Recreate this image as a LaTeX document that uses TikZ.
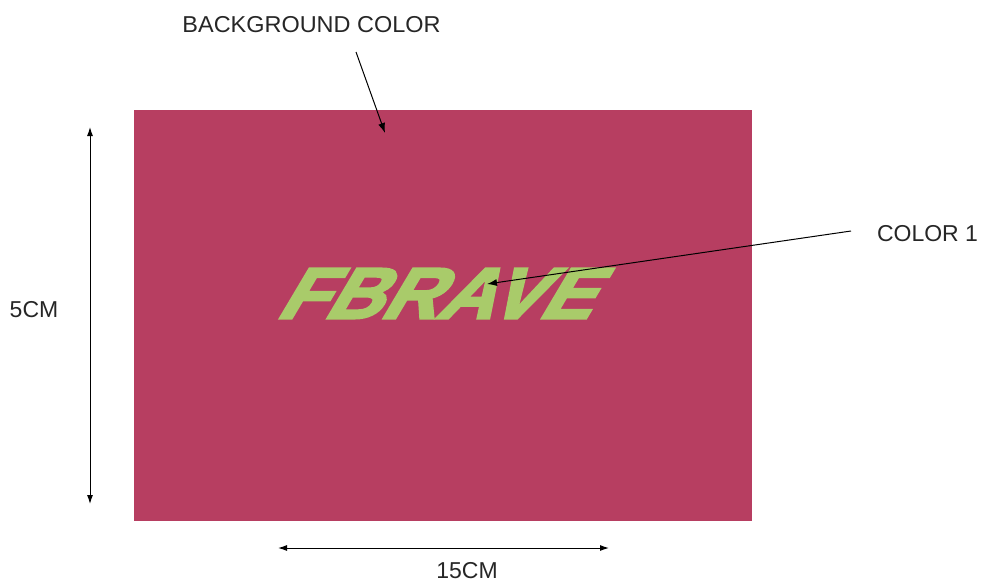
\documentclass[tikz,border=0pt]{standalone}
\usepackage{fontspec}
\setmainfont{Liberation Sans}
\newfontfamily\logofont[FakeBold=3.5, FakeSlant=0.55]{Liberation Sans Bold}
\usetikzlibrary{arrows.meta}
\begin{document}
\begin{tikzpicture}[x=1pt, y=-1pt, thick, main/.style = {inner sep=0pt, font=\fontsize{23}{26}\selectfont, text=black!85}, dim/.style = {draw=black, line width=1pt, {Latex[length=9pt,width=6pt]}-{Latex[length=9pt,width=6pt]}}, lead/.style = {draw=black, line width=1pt, -{Latex[length=10pt,width=7pt]}}]
	\useasboundingbox (0,0) rectangle (982,582);

	\fill[fill={rgb,255:red,183;green,62;blue,97}] (134,110) rectangle (752,521);

	\node[main, xscale=1.02] (bg) at (311.5,24.5) {BACKGROUND COLOR};
	\node[main] (col) at (927.5,234) {COLOR 1};
	\node[main] (high) at (34,310) {5CM};
	\node[main] (wide) at (467,570.5) {15CM};
	\node[inner sep=0pt, font=\fontsize{72}{74}\selectfont\logofont, text={rgb,255:red,169;green,203;blue,106}, xscale=1.08] (logo) at (432,293.5) {FBRAVE};

	\coordinate (bgA) at (356,52);
	\coordinate (bgB) at (385,133);
	\coordinate (colA) at (851,231);
	\coordinate (colB) at (487,284);
	\coordinate (highA) at (90,127);
	\coordinate (highB) at (90,504);
	\coordinate (wideA) at (278,548);
	\coordinate (wideB) at (609,548);

	\draw[lead] (bgA) to (bgB);
	\draw[lead] (colA) to (colB);
	\draw[dim] (highA) to (highB);
	\draw[dim] (wideA) to (wideB);
\end{tikzpicture}
\end{document}
